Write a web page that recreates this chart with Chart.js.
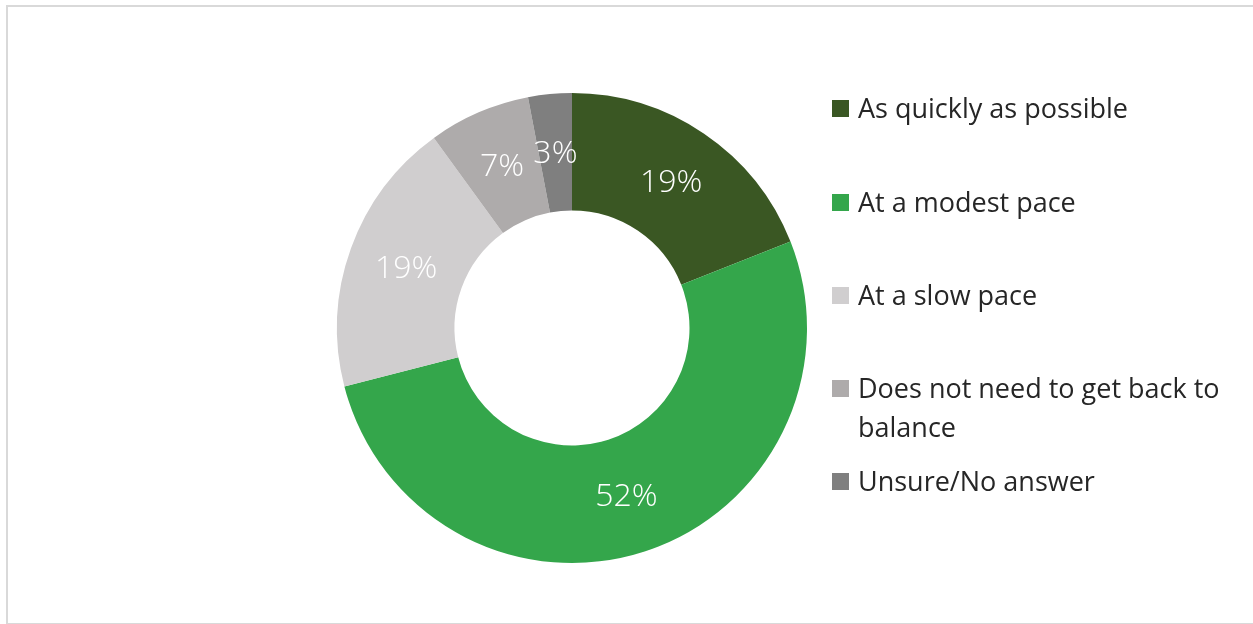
<!DOCTYPE html>
<html>
<head>
<meta charset="utf-8">
<script src="https://cdn.jsdelivr.net/npm/chart.js@4"></script>
<style>
html,body{margin:0;padding:0;background:#fff;}
#wrap{position:relative;width:1253px;height:624px;overflow:hidden;}
#frame{position:absolute;left:6px;top:5px;width:1260px;height:616px;border:2px solid #d9d9d9;box-sizing:content-box;}
#c{position:absolute;left:0;top:0;}
#legend{position:absolute;left:832px;top:0;width:420px;height:624px;font-family:"Open Sans",sans-serif;font-size:27px;color:#262626;}
.sw{position:absolute;left:0;width:17px;height:17px;}
.tx{position:absolute;left:26px;line-height:39px;white-space:nowrap;}
</style>
</head>
<body>
<div id="wrap">
<div id="frame"></div>
<canvas id="c" width="1253" height="624"></canvas>
<div id="legend"></div>
</div>
<script>
const categories = ["As quickly as possible","At a modest pace","At a slow pace","Does not need to get back to balance","Unsure/No answer"];
const legendLines = [["As quickly as possible"],["At a modest pace"],["At a slow pace"],["Does not need to get back to","balance"],["Unsure/No answer"]];
const values = [19,52,19,7,3];
const colors = ["#3a5723","#34a64b","#d0cecf","#aeabab","#7f7f7f"];

const labelPlugin = {
  id:'lbl',
  afterDatasetsDraw(chart){
    const ctx = chart.ctx;
    const meta = chart.getDatasetMeta(0);
    ctx.save();
    ctx.fillStyle = '#ffffff';
    ctx.font = '300 32px "Open Sans", sans-serif';
    ctx.textAlign = 'center';
    ctx.textBaseline = 'middle';
    meta.data.forEach((arc,i)=>{
      const p = arc.getCenterPoint();
      ctx.fillText(values[i]+'%', p.x, p.y + 1);
    });
    ctx.restore();
  }
};

new Chart(document.getElementById('c'),{
  type:'doughnut',
  data:{labels:categories,datasets:[{data:values,backgroundColor:colors,borderWidth:0}]},
  options:{
    responsive:false,animation:false,
    cutout:'50%',
    layout:{padding:{left:337,right:1253-807,top:93,bottom:624-563}},
    plugins:{legend:{display:false},tooltip:{enabled:false}}
  },
  plugins:[labelPlugin]
});

const lg = document.getElementById('legend');
const rowCenters = [108,202,295,388,481];
legendLines.forEach((lines,i)=>{
  const sw = document.createElement('div');
  sw.className='sw'; sw.style.background=colors[i];
  sw.style.top=(rowCenters[i]-8.5)+'px';
  lg.appendChild(sw);
  lines.forEach((t,j)=>{
    const d=document.createElement('div');
    d.className='tx'; d.textContent=t;
    d.style.top=(rowCenters[i]-20.5+j*39)+'px';
    lg.appendChild(d);
  });
});
</script>
</body>
</html>
